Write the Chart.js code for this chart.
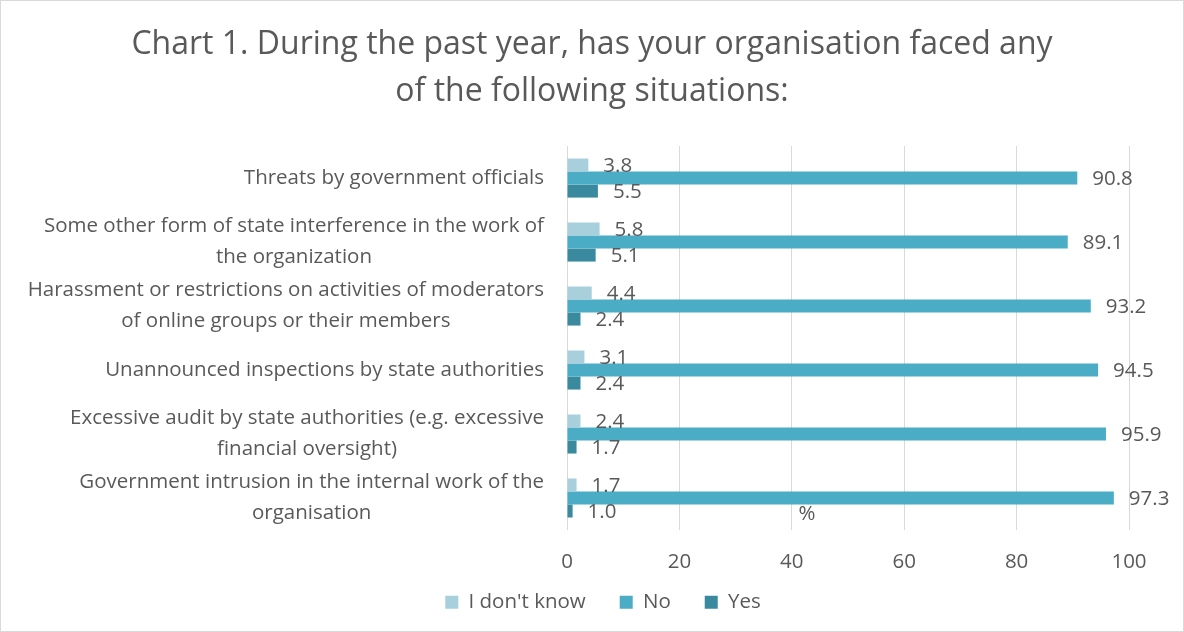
<!DOCTYPE html>
<html>
<head>
<meta charset="utf-8">
<script src="https://cdn.jsdelivr.net/npm/chart.js@4/dist/chart.umd.min.js"></script>
<style>
  html, body { margin: 0; padding: 0; background: #fff; }
  #wrap { position: relative; width: 1182px; height: 630px; border: 1px solid #d9d9d9; }
</style>
</head>
<body>
<div id="wrap"><canvas id="chart1"></canvas></div>
<script>
// categories, top to bottom as in the picture
const categories = [
  ["Threats by government officials"],
  ["Some other form of state interference in the work of", "the organization"],
  ["Harassment or restrictions on activities of moderators", "of online groups or their members"],
  ["Unannounced inspections by state authorities"],
  ["Excessive audit by state authorities (e.g. excessive", "financial oversight)"],
  ["Government intrusion in the internal work of the", "organisation"]
];
const dontKnow = [3.8, 5.8, 4.4, 3.1, 2.4, 1.7];
const no = [90.8, 89.1, 93.2, 94.5, 95.9, 97.3];
const yes = [5.5, 5.1, 2.4, 2.4, 1.7, 1.0];
const xTicks = [0, 20, 40, 60, 80, 100];

const FONT = "'Open Sans', sans-serif";
const GREY = "#595959";
const SIZE = 20.5;

// value labels just past the end of each bar
const valueLabels = {
  id: 'valueLabels',
  afterDatasetsDraw(chart) {
    const ctx = chart.ctx;
    ctx.save();
    ctx.font = SIZE + "px " + FONT;
    ctx.fillStyle = GREY;
    ctx.textAlign = 'left';
    ctx.textBaseline = 'middle';
    chart.data.datasets.forEach((ds, i) => {
      chart.getDatasetMeta(i).data.forEach((bar, j) => {
        ctx.fillText(ds.data[j].toFixed(1), bar.x + 15, bar.y + 1);
      });
    });
    // stray axis title from the original
    const xs = chart.scales.x;
    ctx.fillText('%', xs.getPixelForValue(41.2), chart.chartArea.bottom - 16);
    ctx.restore();
  }
};

// category labels: block right aligned, lines centred inside the block
const catLabels = {
  id: 'catLabels',
  afterDraw(chart) {
    const ctx = chart.ctx;
    const ys = chart.scales.y;
    const right = chart.chartArea.left - 23;
    const lh = 31;
    ctx.save();
    ctx.font = SIZE + "px " + FONT;
    ctx.fillStyle = GREY;
    ctx.textAlign = 'center';
    ctx.textBaseline = 'middle';
    categories.forEach((lines, i) => {
      const w = Math.max(...lines.map(l => ctx.measureText(l).width));
      const cx = right - w / 2;
      const y0 = ys.getPixelForTick(i) - (lines.length - 1) * lh / 2;
      lines.forEach((l, k) => ctx.fillText(l, cx, y0 + k * lh));
    });
    ctx.restore();
  }
};

// compact legend box, items kept spaced apart and nudged into place
const legendFix = {
  id: 'legendFix',
  beforeLayout(chart) {
    const lg = chart.legend;
    if (lg && !lg._patched) {
      const fit = lg.fit;
      const draw = lg.draw;
      lg.fit = function () { fit.call(this); this.height = 55; };
      lg.draw = function () {
        const ctx = this.ctx;
        ctx.save();
        ctx.translate(11, -18);
        draw.call(this);
        ctx.restore();
      };
      lg._patched = true;
    }
  }
};

new Chart(document.getElementById('chart1'), {
  type: 'bar',
  data: {
    labels: categories,
    datasets: [
      { label: "I don't know", data: dontKnow, backgroundColor: '#a7cfdc' },
      { label: 'No', data: no, backgroundColor: '#4aacc5' },
      { label: 'Yes', data: yes, backgroundColor: '#3a8a9f' }
    ]
  },
  options: {
    indexAxis: 'y',
    responsive: true,
    maintainAspectRatio: false,
    animation: false,
    layout: { padding: { left: 32, right: 32, top: 10, bottom: 0 } },
    datasets: { bar: { categoryPercentage: 0.61, barPercentage: 1.0 } },
    scales: {
      x: {
        min: 0, max: 100,
        afterBuildTicks: s => { s.ticks = xTicks.map(v => ({ value: v })); },
        grid: { color: '#d9d9d9', drawTicks: false },
        border: { display: false },
        ticks: { color: GREY, font: { family: FONT, size: SIZE }, padding: 20 },
        afterFit: s => { s.height = 46; }
      },
      y: {
        grid: { display: false },
        border: { display: false },
        ticks: { color: 'rgba(0,0,0,0)', font: { family: FONT, size: 12 } },
        afterFit: s => { s.width = 534; }
      },
      yRight: {
        type: 'category',
        position: 'right',
        grid: { display: false },
        border: { display: false },
        ticks: { display: false },
        afterFit: s => { s.width = 22; }
      }
    },
    plugins: {
      title: {
        display: true,
        text: ['Chart 1. During the past year, has your organisation faced any', 'of the following situations:'],
        color: GREY,
        font: { family: FONT, size: 32, weight: 'normal', lineHeight: 1.47 },
        padding: { top: 10, bottom: 31 }
      },
      legend: {
        position: 'bottom',
        labels: {
          color: GREY,
          font: { family: FONT, size: SIZE },
          boxWidth: 13, boxHeight: 13,
          padding: 34
        }
      },
      tooltip: { enabled: false }
    }
  },
  plugins: [valueLabels, catLabels, legendFix]
});
</script>
</body>
</html>
